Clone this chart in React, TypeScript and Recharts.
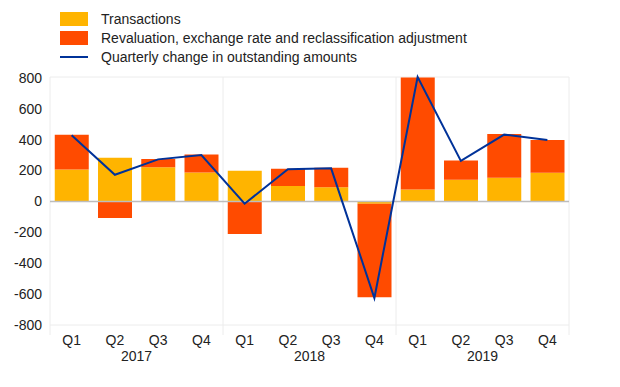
import { ComposedChart, Bar, Line, XAxis, YAxis, CartesianGrid, ReferenceLine } from 'recharts'

const quarters = ['Q1', 'Q2', 'Q3', 'Q4', 'Q1', 'Q2', 'Q3', 'Q4', 'Q1', 'Q2', 'Q3', 'Q4']
const years = ['2017', '2017', '2017', '2017', '2018', '2018', '2018', '2018', '2019', '2019', '2019', '2019']
const transactions = [206, 282, 221, 187, 198, 99, 92, -15, 77, 140, 153, 185]
const revaluation = [226, -108, 54, 116, -211, 112, 125, -605, 725, 124, 283, 213]
const quarterlyChange = [428, 172, 272, 300, -15, 208, 214, -625, 805, 262, 432, 398]
const yTicks = [-800, -600, -400, -200, 0, 200, 400, 600, 800]

const COLORS = {
  transactions: '#FFB400',
  revaluation: '#FF4B00',
  line: '#003299',
  grid: '#ececec',
  zero: '#bdbdbd',
  text: '#222222'
}

const FONT = '"Liberation Sans", Arial, Helvetica, sans-serif'

const data = quarters.map((q, i) => ({
  key: `${years[i]} ${q}`,
  quarter: q,
  year: years[i],
  transactions: transactions[i],
  revaluation: revaluation[i],
  change: quarterlyChange[i]
}))

const HALF_BAND = 519 / 12 / 2

const QuarterTick = ({ x, y, payload, index }: any) => {
  const d = data[index] || data.find((r) => r.key === payload.value)
  const showYear = index % 4 === 1
  const boundaryLeft = index % 4 === 0
  const boundaryRight = index === data.length - 1
  return (
    <g>
      <text x={x} y={y + 12} textAnchor="middle" fill={COLORS.text} fontSize={14} fontFamily={FONT}>
        {d ? d.quarter : ''}
      </text>
      {showYear && (
        <text x={x + HALF_BAND} y={y + 28} textAnchor="middle" fill={COLORS.text} fontSize={14} fontFamily={FONT}>
          {d.year}
        </text>
      )}
      {boundaryLeft && <line x1={x - HALF_BAND} x2={x - HALF_BAND} y1={y - 8} y2={y + 2} stroke={COLORS.grid} />}
      {boundaryRight && <line x1={x + HALF_BAND} x2={x + HALF_BAND} y1={y - 8} y2={y + 2} stroke={COLORS.grid} />}
    </g>
  )
}

const LegendRow = ({ color, label, line }: any) => (
  <div style={{ display: 'flex', alignItems: 'center', height: 14, marginBottom: 5 }}>
    {line ? (
      <div style={{ width: 28, height: 2, background: color, marginRight: 13 }} />
    ) : (
      <div style={{ width: 28, height: 14, background: color, marginRight: 13 }} />
    )}
    <span style={{ fontSize: 14, color: COLORS.text, lineHeight: '14px' }}>{label}</span>
  </div>
)

export default function App() {
  return (
    <div style={{ position: 'fixed', top: 0, left: 0, width: 620, height: 387, background: '#fff', fontFamily: FONT }}>
      <div style={{ position: 'absolute', top: 12, left: 60 }}>
        <LegendRow color={COLORS.transactions} label="Transactions" />
        <LegendRow color={COLORS.revaluation} label="Revaluation, exchange rate and reclassification adjustment" />
        <LegendRow color={COLORS.line} label="Quarterly change in outstanding amounts" line />
      </div>
      <ComposedChart
        width={620}
        height={387}
        data={data}
        stackOffset="sign"
        barCategoryGap="11%"
        margin={{ top: 77, right: 0, bottom: 0, left: 0 }}
      >
        <CartesianGrid
          stroke={COLORS.grid}
          verticalCoordinatesGenerator={({ offset }: any) => [
            offset.left,
            offset.left + (offset.width * 4) / 12,
            offset.left + (offset.width * 8) / 12,
            offset.left + offset.width
          ]}
        />
        <XAxis
          dataKey="key"
          xAxisId={0}
          height={62}
          axisLine={false}
          tickLine={false}
          interval={0}
          tick={<QuarterTick />}
        />
        <YAxis
          yAxisId="left"
          width={50}
          domain={[-800, 800]}
          ticks={yTicks}
          axisLine={false}
          tickLine={false}
          tick={{ fill: COLORS.text, fontSize: 14, fontFamily: FONT }}
          tickMargin={2}
        />
        <YAxis
          yAxisId="right"
          orientation="right"
          width={51}
          domain={[-800, 800]}
          ticks={yTicks}
          axisLine={false}
          tickLine={false}
          tick={{ fill: COLORS.text, fontSize: 14, fontFamily: FONT, textAnchor: 'start' }}
          tickMargin={4}
        />
        <Bar yAxisId="left" dataKey="transactions" stackId="a" fill={COLORS.transactions} isAnimationActive={false} />
        <Bar yAxisId="left" dataKey="revaluation" stackId="a" fill={COLORS.revaluation} isAnimationActive={false} />
        <ReferenceLine yAxisId="left" y={0} stroke={COLORS.zero} strokeWidth={1.5} />
        <Line
          yAxisId="left"
          dataKey="change"
          type="linear"
          stroke={COLORS.line}
          strokeWidth={2}
          dot={false}
          isAnimationActive={false}
        />
      </ComposedChart>
    </div>
  )
}
